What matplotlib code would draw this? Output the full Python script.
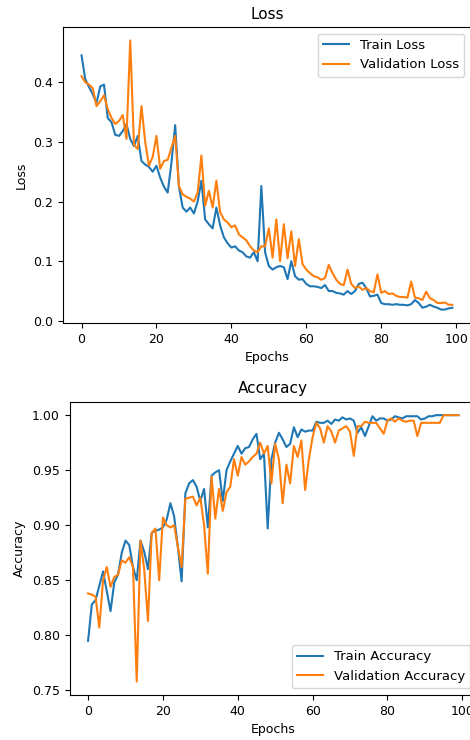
import matplotlib
matplotlib.use('Agg')
import matplotlib.pyplot as plt
import numpy as np

# values, one per epoch
train_loss = [0.445, 0.405, 0.392, 0.38, 0.365, 0.393, 0.396, 0.34, 0.333, 0.312,
              0.31, 0.318, 0.33, 0.305, 0.293, 0.31, 0.268, 0.262, 0.258, 0.25,
              0.26, 0.24, 0.225, 0.215, 0.265, 0.328, 0.225, 0.19, 0.183, 0.19,
              0.18, 0.2, 0.235, 0.17, 0.162, 0.155, 0.19, 0.16, 0.14, 0.13,
              0.123, 0.125, 0.118, 0.115, 0.108, 0.106, 0.115, 0.1, 0.226, 0.115,
              0.092, 0.086, 0.09, 0.092, 0.09, 0.07, 0.1, 0.075, 0.069, 0.07,
              0.062, 0.058, 0.058, 0.057, 0.055, 0.06, 0.05, 0.05, 0.047, 0.046,
              0.044, 0.05, 0.045, 0.05, 0.062, 0.064, 0.055, 0.041, 0.042, 0.044,
              0.03, 0.028, 0.028, 0.027, 0.028, 0.027, 0.027, 0.026, 0.028, 0.035,
              0.03, 0.022, 0.024, 0.027, 0.024, 0.022, 0.019, 0.019, 0.021, 0.022]
val_loss = [0.41, 0.4, 0.396, 0.39, 0.36, 0.368, 0.378, 0.355, 0.34, 0.33,
            0.335, 0.345, 0.305, 0.47, 0.295, 0.288, 0.36, 0.3, 0.26, 0.275,
            0.31, 0.255, 0.268, 0.27, 0.29, 0.31, 0.226, 0.212, 0.208, 0.205,
            0.2, 0.215, 0.277, 0.193, 0.218, 0.19, 0.235, 0.182, 0.17, 0.165,
            0.157, 0.16, 0.145, 0.14, 0.135, 0.125, 0.118, 0.115, 0.125, 0.125,
            0.155, 0.106, 0.17, 0.1, 0.162, 0.105, 0.15, 0.092, 0.137, 0.095,
            0.086, 0.08, 0.075, 0.073, 0.069, 0.072, 0.094, 0.08, 0.069, 0.062,
            0.06, 0.086, 0.062, 0.055, 0.058, 0.052, 0.055, 0.05, 0.048, 0.078,
            0.047, 0.05, 0.045, 0.046, 0.042, 0.04, 0.04, 0.039, 0.066, 0.039,
            0.038, 0.035, 0.049, 0.038, 0.035, 0.03, 0.03, 0.031, 0.027, 0.027]
train_acc = [0.795, 0.828, 0.832, 0.845, 0.858, 0.84, 0.822, 0.848, 0.855, 0.875,
             0.886, 0.882, 0.862, 0.85, 0.886, 0.876, 0.86, 0.893, 0.895, 0.896,
             0.898, 0.905, 0.92, 0.908, 0.88, 0.849, 0.929, 0.938, 0.941, 0.935,
             0.922, 0.933, 0.898, 0.945, 0.948, 0.95, 0.922, 0.95, 0.958, 0.965,
             0.972, 0.965, 0.97, 0.971, 0.978, 0.983, 0.96, 0.965, 0.897, 0.96,
             0.975, 0.984, 0.978, 0.971, 0.974, 0.989, 0.98, 0.987, 0.985, 0.986,
             0.986, 0.994, 0.993, 0.993, 0.995, 0.992, 0.996, 0.995, 0.998, 0.996,
             0.997, 0.995, 0.984, 0.989, 0.981, 0.99, 0.999, 0.995, 0.997, 0.997,
             0.995, 0.996, 0.999, 0.998, 0.997, 0.999, 0.999, 0.999, 0.999, 0.996,
             0.997, 0.999, 0.999, 1.0, 1.0, 1.0, 1.0, 1.0, 1.0, 1.0]
val_acc = [0.838, 0.837, 0.835, 0.807, 0.85, 0.862, 0.844, 0.853, 0.855, 0.868,
           0.866, 0.871, 0.862, 0.758, 0.886, 0.86, 0.813, 0.893, 0.897, 0.85,
           0.907, 0.9, 0.898, 0.9, 0.88, 0.862, 0.924, 0.925, 0.926, 0.918,
           0.925, 0.9, 0.856, 0.944, 0.906, 0.933, 0.913, 0.93, 0.935, 0.96,
           0.945, 0.962, 0.955, 0.958, 0.962, 0.965, 0.975, 0.965, 0.972, 0.938,
           0.974, 0.96, 0.92, 0.955, 0.938, 0.972, 0.962, 0.977, 0.932, 0.96,
           0.98, 0.993, 0.988, 0.975, 0.99, 0.985, 0.975, 0.986, 0.988, 0.99,
           0.985, 0.963, 0.99, 0.99, 0.994, 0.993, 0.993, 0.993, 0.988, 0.983,
           0.995, 0.997, 0.994, 0.997, 0.995, 0.994, 0.995, 0.995, 0.981, 0.993,
           0.993, 0.993, 0.993, 0.993, 0.993, 1.0, 1.0, 1.0, 1.0, 1.0]
epochs = np.arange(len(train_loss))

plt.rcParams['font.size'] = 9
fig = plt.figure(figsize=(4.7, 7.4), dpi=100)

# top panel, runs slightly past the right edge like the reference
ax1 = fig.add_axes([0.134, 0.5635, 0.868, 0.40])
ax1.plot(epochs, train_loss, label='Train Loss', lw=1.5)
ax1.plot(epochs, val_loss, label='Validation Loss', lw=1.5)
ax1.set_title('Loss', fontsize=11)
ax1.set_xlabel('Epochs')
ax1.set_ylabel('Loss')
ax1.legend(loc='upper right', fontsize=9.5)

ax2 = fig.add_axes([0.148, 0.061, 0.867, 0.396])
ax2.plot(epochs, train_acc, label='Train Accuracy', lw=1.5)
ax2.plot(epochs, val_acc, label='Validation Accuracy', lw=1.5)
ax2.set_title('Accuracy', fontsize=11)
ax2.set_xlabel('Epochs')
ax2.set_ylabel('Accuracy')
ax2.legend(loc='lower right', fontsize=9.5)

fig.savefig('out.png', dpi=100)
